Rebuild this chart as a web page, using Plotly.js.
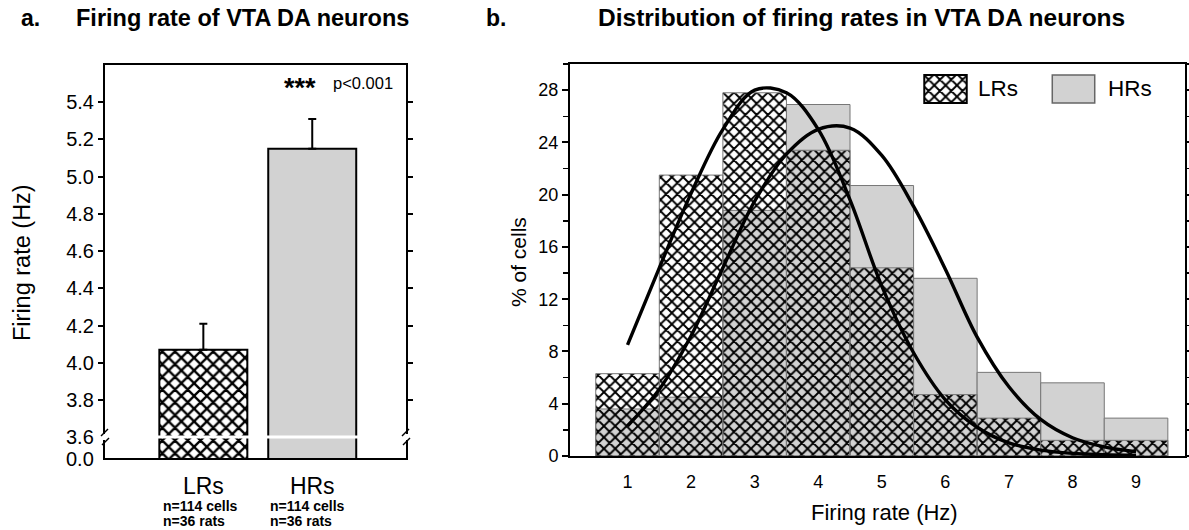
<!DOCTYPE html>
<html>
<head>
<meta charset="utf-8">
<script src="https://cdn.plot.ly/plotly-3.0.1.min.js"></script>
<style>html,body{margin:0;padding:0;background:#fff}#chart{width:1189px;height:530px}</style>
</head>
<body>
<div id="chart"></div>
<script>
// ---- Panel a data ----
const groups = ['LRs', 'HRs'];
const meanRate = [4.07, 5.15];
const semRate = [0.14, 0.16];
const cellNotes = ['n=114 cells', 'n=114 cells'];
const ratNotes = ['n=36 rats', 'n=36 rats'];
const aTickVals = [3.8, 4.0, 4.2, 4.4, 4.6, 4.8, 5.0, 5.2, 5.4];

// ---- Panel b data ----
const bins = [1, 2, 3, 4, 5, 6, 7, 8, 9];
const lrPct = [6.3, 21.5, 27.8, 23.4, 14.4, 4.7, 2.9, 1.2, 1.2];
const hrPct = [3.6, 4.5, 18.8, 26.9, 20.7, 13.6, 6.4, 5.6, 2.9];
const fitX = [1, 1.5, 2, 2.5, 3, 3.5, 4, 4.5, 5, 5.5, 6, 6.5, 7, 7.5, 8, 8.5, 9];
const lrFit = [8.5, 14.4, 20.1, 25.0, 28.0, 27.8, 25.0, 19.6, 13.0, 7.9, 4.3, 2.2, 1.0, 0.45, 0.2, 0.1, 0.05];
const hrFit = [2.3, 5.1, 9.2, 14.4, 19.5, 23.1, 25.0, 25.1, 23.0, 19.1, 14.3, 9.1, 5.3, 2.8, 1.4, 0.7, 0.33];
const bTickVals = [0, 4, 8, 12, 16, 20, 24, 28];

const W = 1189, H = 530;
const px = x => x / W;
const py = y => 1 - y / H;
const FONT = 'Arial, "Liberation Sans", Helvetica, sans-serif';
const GRAY = '#d2d2d2';

const traces = [
  // panel a
  {type: 'bar', x: [groups[0]], y: [meanRate[0]], xaxis: 'x', yaxis: 'y', width: 0.808,
   marker: {color: 'white', line: {color: 'black', width: 2},
            pattern: {shape: 'x', fgcolor: 'black', bgcolor: 'white', size: 9, solidity: 0.45}},
   error_y: {type: 'data', symmetric: false, array: [semRate[0]], arrayminus: [0], color: 'black', thickness: 2, width: 4},
   showlegend: false, hoverinfo: 'skip'},
  {type: 'bar', x: [groups[1]], y: [meanRate[1]], xaxis: 'x', yaxis: 'y', width: 0.808,
   marker: {color: GRAY, line: {color: 'black', width: 2}},
   error_y: {type: 'data', symmetric: false, array: [semRate[1]], arrayminus: [0], color: 'black', thickness: 2, width: 4},
   showlegend: false, hoverinfo: 'skip'},
  // panel b bars
  {type: 'bar', x: bins, y: hrPct, xaxis: 'x2', yaxis: 'y2', width: 1,
   marker: {color: GRAY, line: {color: '#777', width: 1}}, showlegend: false, hoverinfo: 'skip'},
  {type: 'bar', x: bins, y: lrPct, xaxis: 'x2', yaxis: 'y2', width: 1,
   marker: {color: 'rgba(0,0,0,0)', line: {color: '#777', width: 1},
            pattern: {shape: 'x', fgcolor: 'black', bgcolor: 'rgba(0,0,0,0)', size: 8, solidity: 0.42}},
   showlegend: false, hoverinfo: 'skip'},
  // fitted curves
  {type: 'scatter', mode: 'lines', x: fitX, y: lrFit, xaxis: 'x2', yaxis: 'y2',
   line: {color: 'black', width: 3.4, shape: 'spline', smoothing: 1}, showlegend: false, hoverinfo: 'skip'},
  {type: 'scatter', mode: 'lines', x: fitX, y: hrFit, xaxis: 'x2', yaxis: 'y2',
   line: {color: 'black', width: 3.4, shape: 'spline', smoothing: 1}, showlegend: false, hoverinfo: 'skip'},
  // legend swatches
  {type: 'bar', x: [0.5], y: [1], width: [1], xaxis: 'x3', yaxis: 'y3',
   marker: {color: 'white', line: {color: 'black', width: 2},
            pattern: {shape: 'x', fgcolor: 'black', bgcolor: 'white', size: 8, solidity: 0.42}},
   showlegend: false, hoverinfo: 'skip'},
  {type: 'bar', x: [0.5], y: [1], width: [1], xaxis: 'x4', yaxis: 'y4',
   marker: {color: GRAY, line: {color: '#666', width: 1.5}}, showlegend: false, hoverinfo: 'skip'}
];

const ax = {showgrid: false, zeroline: false, showline: true, linecolor: 'black', linewidth: 2, tickcolor: 'black'};
const hiddenAx = {visible: false, showgrid: false, zeroline: false, fixedrange: true};

const ann = [];
function text(x, y, t, size, opts) {
  ann.push(Object.assign({xref: 'paper', yref: 'paper', x: px(x), y: py(y), text: t, showarrow: false,
    font: {family: FONT, size: size, color: 'black'}, xanchor: 'left', yanchor: 'middle'}, opts || {}));
}
// titles
text(19, 18, '<b>a.</b>', 23);
text(74, 18, '<b>Firing rate of VTA DA neurons</b>', 23.5);
text(484, 18, '<b>b.</b>', 23);
text(596, 18, '<b>Distribution of firing rates in VTA DA neurons</b>', 24.5);
// panel a labels
text(22, 263, 'Firing rate (Hz)', 23.5, {xanchor: 'center', textangle: -90});
text(96, 437, '3.6', 20, {xanchor: 'right'});
text(96, 459, '0.0', 20, {xanchor: 'right'});
text(318, 88, '<b>***</b>', 27, {xanchor: 'right'});
text(395, 83, 'p&lt;0.001', 16.5, {xanchor: 'right'});
text(161, 506, '<b>' + cellNotes[0] + '</b>', 14);
text(161, 521, '<b>' + ratNotes[0] + '</b>', 14);
text(268, 506, '<b>' + cellNotes[1] + '</b>', 14);
text(268, 521, '<b>' + ratNotes[1] + '</b>', 14);
// panel b labels
text(518, 262, '% of cells', 21, {xanchor: 'center', textangle: -90});
text(884, 512, 'Firing rate (Hz)', 22, {xanchor: 'center'});
text(976, 89, 'LRs', 22.5);
text(1106, 89, 'HRs', 22.5);

// decorations: axis break
const shapes = [
  {type: 'line', xref: 'paper', yref: 'paper', x0: px(157), x1: px(358), y0: py(437), y1: py(437),
   line: {color: 'white', width: 3}, layer: 'above'},
];
[105, 406].forEach(xx => {
  shapes.push({type: 'line', xref: 'paper', yref: 'paper', x0: px(xx), x1: px(xx), y0: py(434), y1: py(440),
    line: {color: 'white', width: 4}, layer: 'above'});
  shapes.push({type: 'line', xref: 'paper', yref: 'paper', x0: px(xx - 4), x1: px(xx + 3), y0: py(436), y1: py(429),
    line: {color: 'black', width: 1.5}, layer: 'above'});
  shapes.push({type: 'line', xref: 'paper', yref: 'paper', x0: px(xx - 3), x1: px(xx + 4), y0: py(445), y1: py(438),
    line: {color: 'black', width: 1.5}, layer: 'above'});
});

const layout = {
  width: W, height: H,
  margin: {l: 0, r: 0, t: 0, b: 0},
  paper_bgcolor: 'white', plot_bgcolor: 'white',
  font: {family: FONT, color: 'black'},
  barmode: 'overlay',
  showlegend: false,
  xaxis: Object.assign({}, ax, {domain: [px(105), px(406)], anchor: 'y', type: 'category',
    range: [-0.903, 1.861], ticks: '', mirror: true, tickfont: {size: 23}, ticklabelstandoff: 6}),
  yaxis: Object.assign({}, ax, {domain: [py(458), py(65)], anchor: 'x', range: [3.488, 5.6],
    tickmode: 'array', tickvals: aTickVals, ticktext: aTickVals.map(v => v.toFixed(1)),
    ticks: 'outside', ticklen: 5, tickwidth: 2, mirror: 'ticks', tickfont: {size: 20}}),
  xaxis2: Object.assign({}, ax, {domain: [px(570), px(1185)], anchor: 'y2', range: [0.095, 9.77],
    tickmode: 'array', tickvals: bins, ticks: '', mirror: true, tickfont: {size: 18}, ticklabelstandoff: 8}),
  yaxis2: Object.assign({}, ax, {domain: [py(456), py(64)], anchor: 'x2', range: [0, 30],
    tickmode: 'array', tickvals: bTickVals, ticks: 'outside', ticklen: 6, tickwidth: 2, mirror: 'ticks',
    tickfont: {size: 18},
    minor: {dtick: 2, tick0: 0, ticks: 'outside', ticklen: 5, tickwidth: 1.5, tickcolor: 'black', showgrid: false}}),
  xaxis3: Object.assign({}, hiddenAx, {domain: [px(923), px(968)], anchor: 'y3', range: [-0.03, 1.03]}),
  yaxis3: Object.assign({}, hiddenAx, {domain: [py(104), py(74)], anchor: 'x3', range: [-0.04, 1.04]}),
  xaxis4: Object.assign({}, hiddenAx, {domain: [px(1051), px(1096)], anchor: 'y4', range: [-0.03, 1.03]}),
  yaxis4: Object.assign({}, hiddenAx, {domain: [py(104), py(74)], anchor: 'x4', range: [-0.04, 1.04]}),
  annotations: ann,
  shapes: shapes
};

Plotly.newPlot('chart', traces, layout, {staticPlot: true, displayModeBar: false});
</script>
</body>
</html>
